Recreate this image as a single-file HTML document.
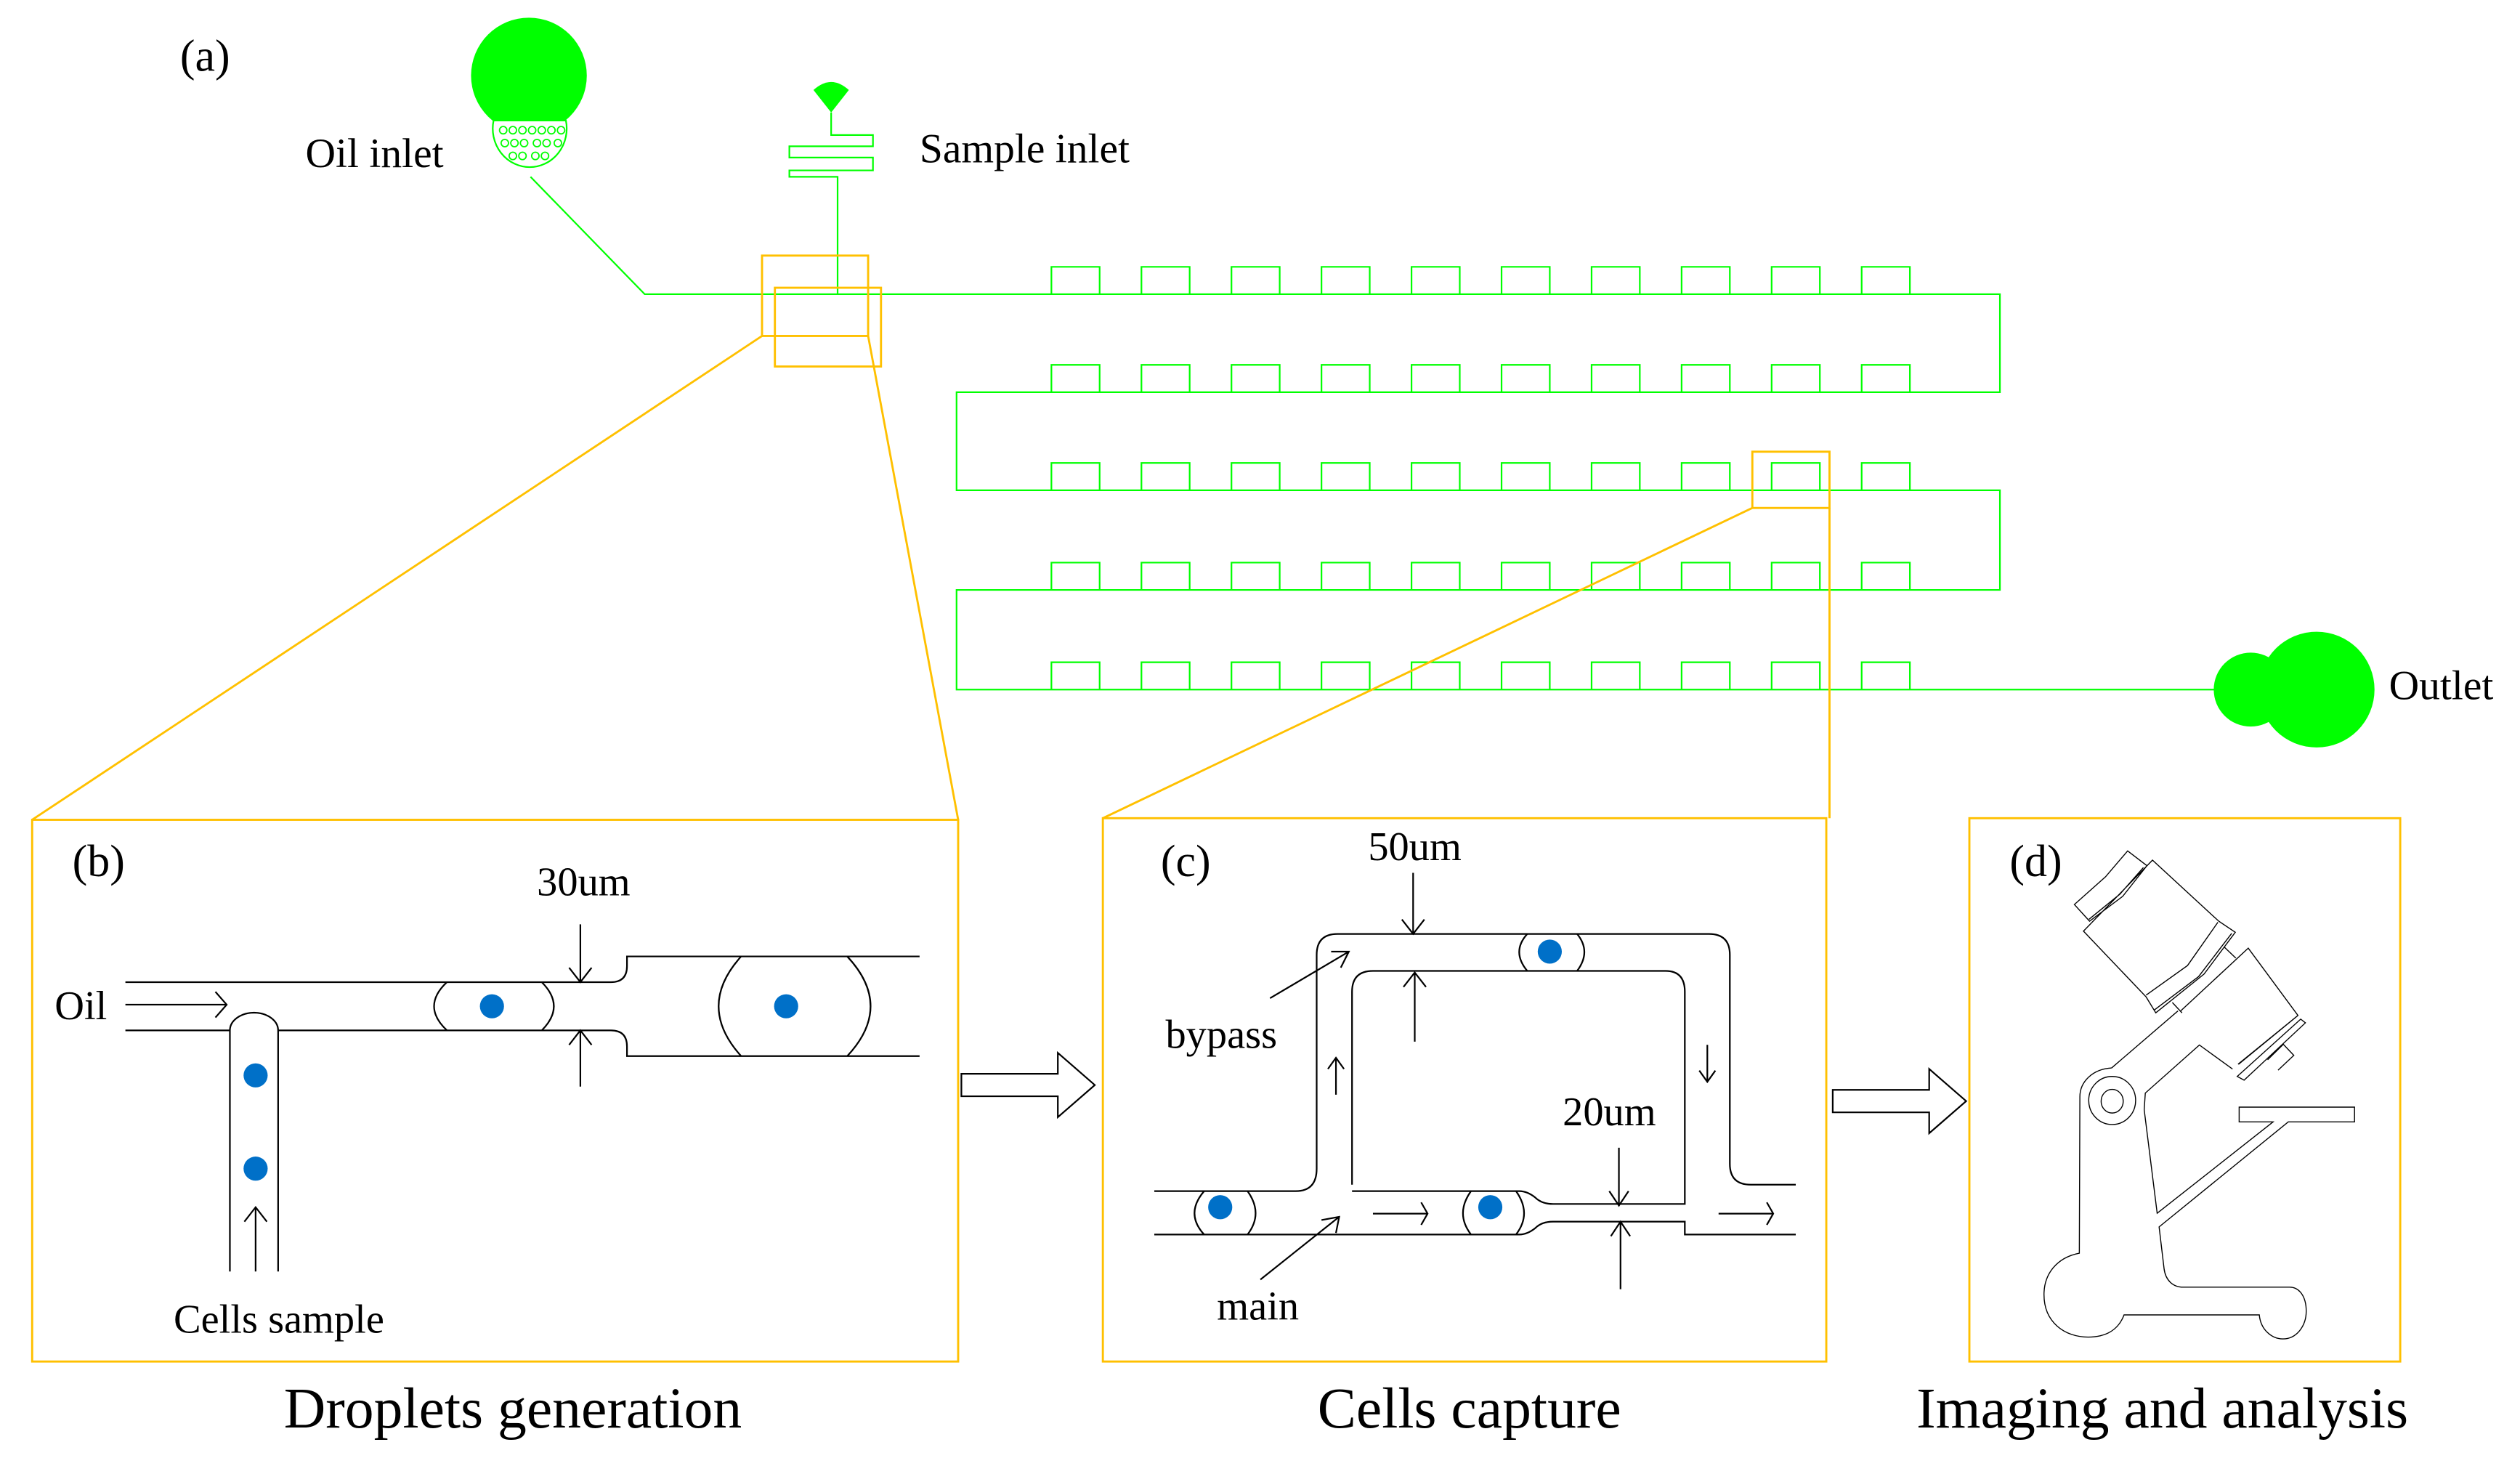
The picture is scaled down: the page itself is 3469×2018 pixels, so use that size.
<!DOCTYPE html>
<html><head><meta charset="utf-8"><style>
html,body{margin:0;padding:0;background:#fff;}
svg{display:block;}
text{font-family:"Liberation Serif",serif;fill:#000;}
</style></head><body>
<svg width="3469" height="2018" viewBox="0 0 1567.5 912" preserveAspectRatio="none" xmlns="http://www.w3.org/2000/svg">
<rect width="1570" height="915" fill="#fff"/>
<!-- (a) -->
<text x="112" y="44" font-size="28">(a)</text>
<text x="190" y="104" font-size="26">Oil inlet</text>
<text x="572" y="101" font-size="26">Sample inlet</text>
<text x="1486" y="435" font-size="26">Outlet</text>
<g stroke="#00ff00" fill="none" stroke-width="1">
  <circle cx="329" cy="47" r="36" fill="#00ff00" stroke="none"/>
  <path d="M307,75 A23,24 0 1 0 352,75 Z" fill="#fff"/>
  <g stroke-width="0.8">
    <circle cx="313" cy="81" r="2.3"/><circle cx="319" cy="81" r="2.3"/><circle cx="325" cy="81" r="2.3"/><circle cx="331" cy="81" r="2.3"/><circle cx="337" cy="81" r="2.3"/><circle cx="343" cy="81" r="2.3"/><circle cx="349" cy="81" r="2.3"/>
    <circle cx="314" cy="89" r="2.3"/><circle cx="320" cy="89" r="2.3"/><circle cx="326" cy="89" r="2.3"/><circle cx="334" cy="89" r="2.3"/><circle cx="340" cy="89" r="2.3"/><circle cx="347" cy="89" r="2.3"/>
    <circle cx="319" cy="97" r="2.3"/><circle cx="325" cy="97" r="2.3"/><circle cx="333" cy="97" r="2.3"/><circle cx="339" cy="97" r="2.3"/>
  </g>
  <path d="M330,110 L401,183 L1244,183 L1244,244 L595,244 L595,305 L1244,305 L1244,367 L595,367 L595,429 L1380,429"/>
  <path d="M506,56 Q517,46 528,56 L517,70 Z" fill="#00ff00" stroke="none"/>
  <path d="M517,70 L517,84 L543,84 L543,91 L491,91 L491,98 L543,98 L543,106 L491,106 L491,110 L521,110 L521,183"/>
  <g id="traps">
    <path d="M654,183 v-17 h30 v17 M710,183 v-17 h30 v17 M766,183 v-17 h30 v17 M822,183 v-17 h30 v17 M878,183 v-17 h30 v17 M934,183 v-17 h30 v17 M990,183 v-17 h30 v17 M1046,183 v-17 h30 v17 M1102,183 v-17 h30 v17 M1158,183 v-17 h30 v17"/>
  </g>
  <use href="#traps" y="61"/>
  <use href="#traps" y="122"/>
  <use href="#traps" y="184"/>
  <use href="#traps" y="246"/>
  <circle cx="1400" cy="429" r="23" fill="#00ff00" stroke="none"/>
  <circle cx="1441" cy="429" r="36" fill="#00ff00" stroke="none"/>
</g>
<g stroke="#ffc000" fill="none" stroke-width="1.3">
  <rect x="474" y="159" width="66" height="50"/>
  <rect x="482" y="179" width="66" height="49"/>
  <path d="M474,209 L20,510 M540,209 L596,510"/>
  <rect x="1090" y="281" width="48" height="35"/>
  <path d="M1090,316 L686,509 M1138,316 L1138,509"/>
  <rect x="20" y="510" width="576" height="337"/>
  <rect x="686" y="509" width="450" height="338"/>
  <rect x="1225" y="509" width="268" height="338"/>
</g>
<!-- block arrows -->
<g stroke="#000" fill="#fff" stroke-width="1">
  <path d="M598,668 L658,668 L658,655 L681,675 L658,695 L658,682 L598,682 Z"/>
  <path d="M1140,678 L1200,678 L1200,665 L1223,685 L1200,705 L1200,692 L1140,692 Z"/>
</g>
<!-- (b) -->
<text x="45" y="545" font-size="28">(b)</text>
<text x="34" y="634" font-size="25.5">Oil</text>
<text x="334" y="557" font-size="25.5">30um</text>
<text x="108" y="829" font-size="25.5">Cells sample</text>
<g stroke="#000" fill="none" stroke-width="1">
  <path d="M78,611 L380,611 Q390,611 390,601 L390,595 L572,595"/>
  <path d="M78,641 L143,641 M173,641 L380,641 Q390,641 390,651 L390,657 L572,657"/>
  <path d="M143,791 L143,641 A15,11 0 0 1 173,641 L173,791"/>
  <path d="M278,611 Q262,626 278,641 M337,611 Q352,626 337,641"/>
  <path d="M461,595 Q433,626 461,657 M527,595 Q556,626 527,657"/>
  <path d="M78,625 L141,625 M134,617 L141,625 L134,633"/>
  <path d="M159,791 L159,751 M152,760 L159,751 L166,760"/>
  <path d="M361,575 L361,611 M354,602 L361,611 L368,602"/>
  <path d="M361,676 L361,641 M354,650 L361,641 L368,650"/>
</g>
<g fill="#0070c8">
  <circle cx="159" cy="669" r="7.5"/><circle cx="159" cy="727" r="7.5"/>
  <circle cx="306" cy="626" r="7.5"/><circle cx="489" cy="626" r="7.5"/>
</g>
<!-- (c) -->
<text x="722" y="545" font-size="28">(c)</text>
<text x="851" y="535" font-size="25.5">50um</text>
<text x="725" y="652" font-size="25.5">bypass</text>
<text x="972" y="700" font-size="25.5">20um</text>
<text x="757" y="821" font-size="25.5">main</text>
<g stroke="#000" fill="none" stroke-width="1">
  <path d="M718,741 L806,741 Q819,741 819,727 L819,594 Q819,581 832,581 L1063,581 Q1076,581 1076,594 L1076,724 Q1076,737 1089,737 L1117,737"/>
  <path d="M841,737 L841,617 Q841,604 854,604 L1036,604 Q1048,604 1048,617 L1048,749 L966,749 Q959,749 955,745 Q950,741 945,741 L841,741"/>
  <path d="M718,768 L945,768 Q950,768 955,764 Q959,760 966,760 L1048,760 L1048,768 L1117,768"/>
  <path d="M749,741 Q737,755 749,768 M776,741 Q786,755 776,768"/>
  <path d="M915,741 Q905,755 915,768 M943,741 Q953,755 943,768"/>
  <path d="M950,581 Q940,592 950,604 M981,581 Q990,592 981,604"/>
  <path d="M879,543 L879,581 M872,572 L879,581 L886,572"/>
  <path d="M880,648 L880,605 M873,614 L880,605 L887,614"/>
  <path d="M790,621 L839,592 M828,592 L839,592 L834,602"/>
  <path d="M784,796 L833,757 M822,759 L833,757 L831,767"/>
  <path d="M831,681 L831,658 M826,665 L831,658 L836,665"/>
  <path d="M1062,650 L1062,673 M1057,666 L1062,673 L1067,666"/>
  <path d="M854,755 L888,755 M884,748 L888,755 L884,762"/>
  <path d="M1069,755 L1103,755 M1099,748 L1103,755 L1099,762"/>
  <path d="M1007,714 L1007,750 M1001,741 L1007,750 L1013,741"/>
  <path d="M1008,802 L1008,760 M1002,769 L1008,760 L1014,769"/>
</g>
<g fill="#0070c8">
  <ellipse cx="759" cy="751" rx="7.5" ry="7.5"/>
  <ellipse cx="927" cy="751" rx="7.5" ry="7.5"/>
  <ellipse cx="964" cy="592" rx="7.5" ry="7.5"/>
</g>
<!-- (d) -->
<text x="1250" y="545" font-size="28">(d)</text>
<g transform="translate(1244.8,496) scale(0.1717,0.23)" stroke="#000" fill="none">
  <path vector-effect="non-scaling-stroke" stroke-width="1.4" d="M265,290 L378,215 L458,145 L528,185 L440,268 L320,335 Z M318,330 L430,262 L515,190 M298,362 L548,170 L788,335 L848,365 L735,478 L560,583 L525,540 Z M525,535 L675,455 L785,338 M555,575 L715,485 L835,368 M620,555 L655,583 M650,578 L895,408 L1075,590 L858,722 M808,405 L850,435 M855,755 L1085,600 L1102,610 L880,765 Z M860,722 L1075,590 M965,710 L1022,668 L1060,698 L1003,738 M400,732 L640,578 M400,732 C330,735 285,770 285,810 L283,1233 C200,1245 155,1290 155,1345 C155,1420 230,1460 315,1460 C380,1460 425,1440 445,1400 L935,1400 C940,1440 980,1465 1020,1465 C1070,1465 1105,1430 1105,1390 C1105,1350 1080,1325 1045,1325 L660,1325 C620,1325 595,1305 590,1275 L572,1162 L1040,878 L1280,878 L1280,838 L862,838 L862,878 L985,878 L565,1125 L518,845 L522,800 L718,670 L838,735"/>
  <ellipse vector-effect="non-scaling-stroke" stroke-width="1.4" cx="402" cy="820" rx="85" ry="65"/>
  <ellipse vector-effect="non-scaling-stroke" stroke-width="1.4" cx="402" cy="822" rx="40" ry="32"/>
</g>
<!-- titles -->
<text x="319" y="888" font-size="36" text-anchor="middle">Droplets generation</text>
<text x="914" y="888" font-size="36" text-anchor="middle">Cells capture</text>
<text x="1345" y="888" font-size="36" text-anchor="middle">Imaging and analysis</text>
</svg>
</body></html>
